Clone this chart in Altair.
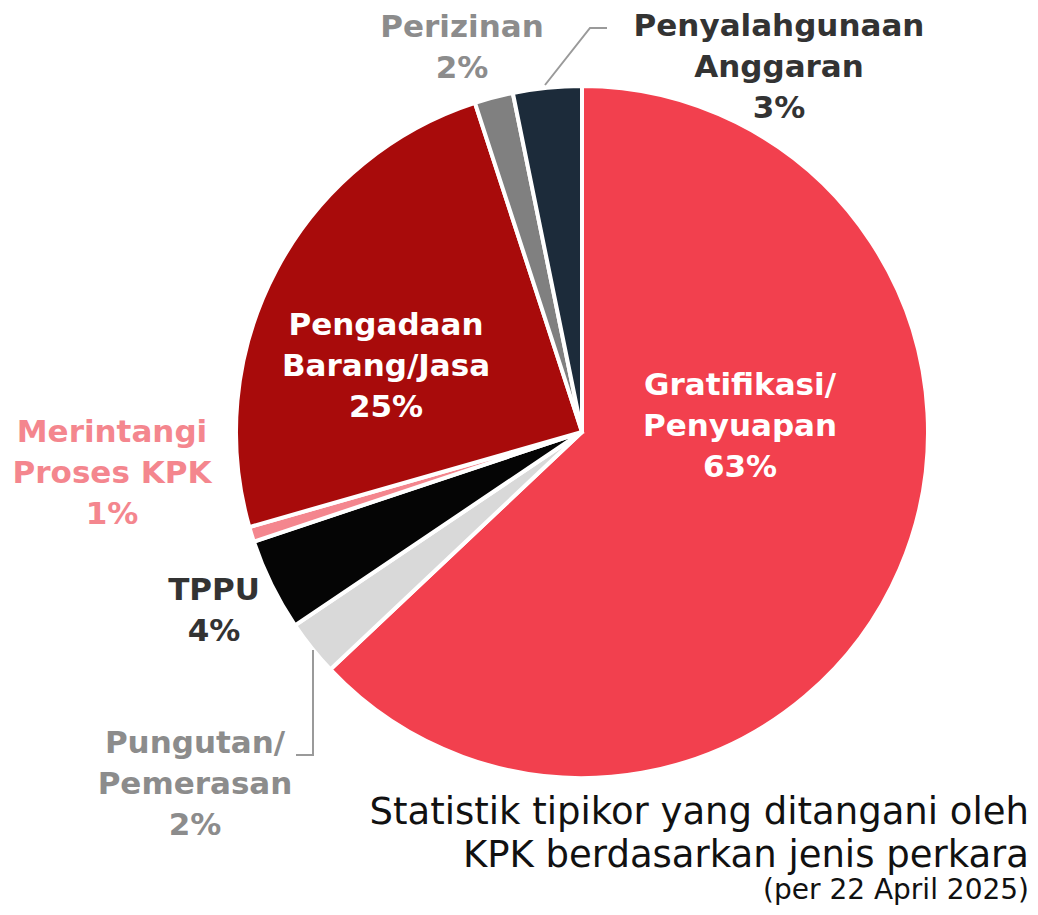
import altair as alt
import pandas as pd

# ---- data ----
categories = ["Gratifikasi/Penyuapan", "Pungutan/Pemerasan", "TPPU",
              "Merintangi Proses KPK", "Pengadaan Barang/Jasa",
              "Perizinan", "Penyalahgunaan Anggaran"]
values = [62.9, 2.6, 4.3, 0.7, 24.4, 1.8, 3.2]
pct_labels = ["63%", "2%", "4%", "1%", "25%", "2%", "3%"]
label_lines = ["Gratifikasi/\nPenyuapan", "Pungutan/\nPemerasan", "TPPU",
               "Merintangi\nProses KPK", "Pengadaan\nBarang/Jasa",
               "Perizinan", "Penyalahgunaan\nAnggaran"]
title_lines = ["Statistik tipikor yang ditangani oleh",
               "KPK berdasarkan jenis perkara"]
subtitle = "(per 22 April 2025)"

# ---- styles / layout ----
slice_colors = ["#F2404E", "#D9D9D9", "#050505", "#F4868E", "#A80B0B",
                "#808080", "#1C2B3A"]
text_colors = ["#FFFFFF", "#8C8C8C", "#333333", "#F4868E", "#FFFFFF",
               "#8C8C8C", "#333333"]
label_x = [732, 187, 206, 104, 378, 454, 771]
label_y = [387, 745, 592, 434, 327, 29, 28]   # baseline of first line
CX, CY, R = 574, 424, 346
W, H = 1022, 899
FONT = "DejaVu Sans"

pie_df = pd.DataFrame({"category": categories, "value": values,
                       "idx": list(range(len(categories)))})

lab_df = pd.DataFrame({
    "text": [l + "\n" + p for l, p in zip(label_lines, pct_labels)],
    "lx": label_x, "ly": label_y, "tc": text_colors,
})

leader_df = pd.DataFrame({
    "line": ["a", "a", "a", "b", "b", "b"],
    "k": [0, 1, 2, 0, 1, 2],
    "px": [537, 582, 599, 305, 305, 288],
    "py": [77, 20, 20, 642, 747, 747],
})

pie = alt.Chart(pie_df).mark_arc(radius=R, stroke="white", strokeWidth=4).encode(
    theta=alt.Theta("value:Q", stack=True),
    order=alt.Order("idx:Q", sort="ascending"),
    color=alt.Color("category:N", scale=alt.Scale(domain=categories, range=slice_colors), legend=None),
    x=alt.value(CX), y=alt.value(CY),
)

labels = alt.Chart(lab_df).mark_text(
    font=FONT, fontWeight="bold", fontSize=31, lineBreak="\n", lineHeight=41,
    align="center", baseline="alphabetic",
).encode(
    x=alt.X("lx:Q", scale=None), y=alt.Y("ly:Q", scale=None),
    text="text:N", color=alt.Color("tc:N", scale=None),
)

leaders = alt.Chart(leader_df).mark_line(color="#9A9A9A", strokeWidth=2).encode(
    x=alt.X("px:Q", scale=None), y=alt.Y("py:Q", scale=None),
    detail="line:N", order="k:Q",
)

title_df = pd.DataFrame({"t": ["\n".join(title_lines)]})
title = alt.Chart(title_df).mark_text(
    font=FONT, fontSize=37, lineBreak="\n", lineHeight=43,
    align="right", baseline="alphabetic", color="#111111",
).encode(x=alt.value(1021), y=alt.value(816), text="t:N")

sub_df = pd.DataFrame({"t": [subtitle]})
sub = alt.Chart(sub_df).mark_text(
    font=FONT, fontSize=28, align="right",
    baseline="alphabetic", color="#111111",
).encode(x=alt.value(1021), y=alt.value(891), text="t:N")

chart = alt.layer(pie, leaders, labels, title, sub).properties(
    width=W, height=H, autosize=alt.AutoSizeParams(type="none"), padding=0,
).configure_view(stroke=None)

chart.save("out.html", embed_options={"renderer": "svg", "actions": False})
